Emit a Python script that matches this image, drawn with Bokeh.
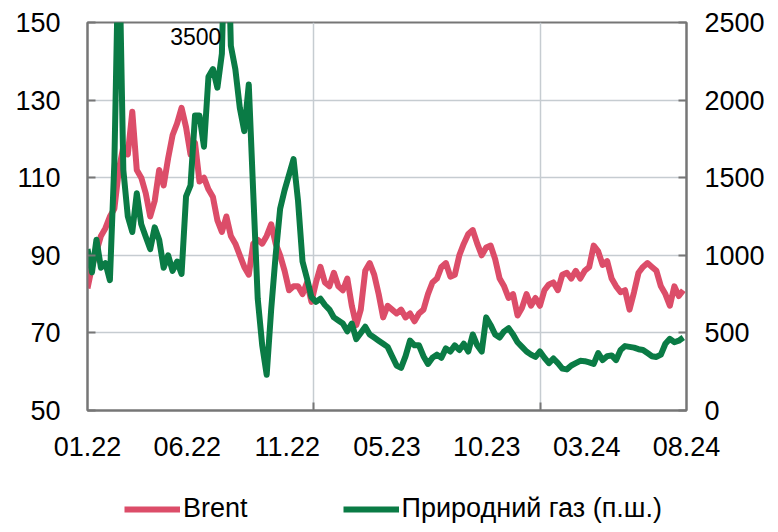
import pandas as pd
from bokeh.plotting import figure
from bokeh.layouts import column
from bokeh.models import (Range1d, LinearAxis, FixedTicker, Legend, LegendItem,
                          Label, ColumnDataSource)
from bokeh.embed import file_html
from bokeh.resources import INLINE

# ---------------- data (weekly observations from 2022-01-03) ----------------
start_date = "2022-01-03"
brent = [81.5, 87, 91, 95, 97, 100, 102, 112, 118, 116,
         127, 112, 110, 106, 100, 104, 112, 108, 115, 121,
         124, 128, 123, 116, 119, 109, 110, 107, 105, 99,
         96, 100, 95, 93, 90, 87, 85, 93, 94, 93,
         95, 98, 93, 90, 86, 81, 82, 82, 80, 83,
         78, 83, 87, 83, 82, 85.5, 82, 81, 84, 77,
         72, 76, 86, 88, 85, 80, 74, 77, 76, 75,
         76, 74, 75, 73, 75, 76, 80, 83, 84, 87,
         88, 84.5, 85, 90, 93, 95.5, 96.5, 93, 90, 92,
         92.5, 89, 84, 82, 79, 80, 74.5, 76.5, 80, 77,
         79, 77, 81, 82.5, 83, 81, 85, 85.5, 84, 86,
         84, 86, 87, 92.5, 91, 87.5, 88.5, 84, 82, 80.5,
         81, 76, 80.5, 85.5, 87, 88, 87, 86, 82, 80,
         77, 82, 79.5, 81]
gas = [1040, 890, 1100, 920, 950, 840, 1600, 3100, 1550, 1250,
       1150, 1400, 1200, 1120, 1040, 1180, 1100, 920, 1000, 900,
       960, 880, 1380, 1450, 1900, 1900, 1700, 2150, 2200, 2080,
       2300, 3500, 2350, 2200, 1950, 1800, 2100, 1400, 720, 420,
       230, 650, 1000, 1300, 1420, 1520, 1620, 1350, 960, 850,
       730, 700, 720, 680, 650, 600, 580, 560, 510, 560,
       460, 500, 540, 490, 470, 450, 430, 410, 350, 290,
       275, 350, 450, 420, 420, 350, 300, 340, 360, 340,
       400, 380, 420, 390, 430, 380, 490, 420, 380, 600,
       550, 490, 470, 510, 530, 490, 440, 410, 380, 360,
       345, 380, 340, 305, 335, 305, 270, 265, 290, 305,
       320, 318, 310, 300, 370, 325, 350, 355, 325, 390,
       415, 410, 405, 395, 390, 370, 350, 345, 360, 430,
       462, 440, 450, 470]
assert len(brent) == len(gas)

series_names = ["Brent", "Природний газ (п.ш.)"]
tick_labels = ["01.22", "06.22", "11.22", "05.23", "10.23", "03.24", "08.24"]
label_step_days = 156
grid_days = [353, 708]
end_days = 936
left_ticks = [50, 70, 90, 110, 130, 150]
right_ticks = [0, 500, 1000, 1500, 2000, 2500]

dates = pd.date_range(start_date, periods=len(brent), freq="7D")
days = [(d - dates[0]).days for d in dates]
src = ColumnDataSource(dict(x=days, brent=brent, gas=gas))

RED = "#DC4D69"
GREEN = "#0A7B45"
AXIS = "#767676"
GRID = "#C6CCD1"
FONT = "Liberation Sans"
FS = "27px"
LW = 6

W = 770
H_MAIN = 470
H_LEG = 54

p = figure(width=W, height=H_MAIN, output_backend="svg", toolbar_location=None,
           x_range=Range1d(0, end_days), y_range=Range1d(left_ticks[0], left_ticks[-1]),
           min_border_left=87, min_border_right=84, min_border_top=22, min_border_bottom=60)
p.extra_y_ranges = {"gas": Range1d(right_ticks[0], right_ticks[-1])}

p.outline_line_color = AXIS
p.outline_line_width = 2

# x axis
xt = [i * label_step_days for i in range(len(tick_labels))]
p.xaxis.ticker = FixedTicker(ticks=xt, minor_ticks=grid_days)
p.xaxis.major_label_overrides = {t: lab for t, lab in zip(xt, tick_labels)}
p.xaxis.major_tick_in = 0
p.xaxis.major_tick_out = 0
p.xaxis.minor_tick_in = 8
p.xaxis.minor_tick_out = 0
p.xaxis.minor_tick_line_color = AXIS
p.xaxis.minor_tick_line_width = 2
p.xaxis.axis_line_color = AXIS
p.xaxis.axis_line_width = 2
p.xaxis.major_label_standoff = 26
p.xaxis.major_label_text_font = FONT
p.xaxis.major_label_text_font_size = FS
p.xaxis.major_label_text_color = "black"

# left axis
p.yaxis.ticker = FixedTicker(ticks=left_ticks, minor_ticks=[])
p.yaxis.major_tick_in = 8
p.yaxis.major_tick_out = 0
p.yaxis.major_tick_line_color = AXIS
p.yaxis.major_tick_line_width = 2
p.yaxis.axis_line_color = AXIS
p.yaxis.axis_line_width = 2
p.yaxis.major_label_standoff = 27
p.yaxis.major_label_text_font = FONT
p.yaxis.major_label_text_font_size = FS
p.yaxis.major_label_text_color = "black"

# right axis
ra = LinearAxis(y_range_name="gas", ticker=FixedTicker(ticks=right_ticks, minor_ticks=[]))
ra.major_tick_in = 8
ra.major_tick_out = 0
ra.major_tick_line_color = AXIS
ra.major_tick_line_width = 2
ra.axis_line_color = AXIS
ra.axis_line_width = 2
ra.major_label_standoff = 18
ra.major_label_text_font = FONT
ra.major_label_text_font_size = FS
ra.major_label_text_color = "black"
p.add_layout(ra, "right")

# grids
p.xgrid.ticker = FixedTicker(ticks=grid_days)
p.xgrid.grid_line_color = GRID
p.xgrid.grid_line_width = 1.5
p.ygrid.ticker = FixedTicker(ticks=left_ticks)
p.ygrid.grid_line_color = GRID
p.ygrid.grid_line_width = 1.5

p.line("x", "brent", source=src, color=RED, line_width=LW, line_join="round")
p.line("x", "gas", source=src, color=GREEN, line_width=LW, line_join="round",
       y_range_name="gas")

# off-scale peak annotation
imax = max(range(len(gas)), key=lambda i: gas[i])
p.add_layout(Label(x=days[imax], y=right_ticks[-1], y_range_name="gas",
                   text=f"{gas[imax]:.0f}", text_align="right", text_baseline="middle",
                   x_offset=-5, y_offset=-14, text_font=FONT, text_font_size="23px",
                   text_color="black"))

# ---------------- legend strip (its frame is aligned with the chart's) ----------------
lg = figure(width=W, height=H_LEG, output_backend="svg", toolbar_location=None,
            x_range=Range1d(0, end_days), y_range=Range1d(0, 1),
            x_axis_location=None, y_axis_location=None,
            min_border_left=0, min_border_right=0, min_border_top=0, min_border_bottom=0)
lg.outline_line_color = None
lg.grid.visible = False
# same series, drawn outside this strip's visible range: only their legend swatches show
d1 = lg.line("x", "brent", source=src, color=RED, line_width=LW)
d2 = lg.line("x", "gas", source=src, color=GREEN, line_width=LW)
legend = Legend(items=[LegendItem(label=series_names[0], renderers=[d1]),
                       LegendItem(label=series_names[1], renderers=[d2])],
                orientation="horizontal", location=(37, 0),
                glyph_width=56, glyph_height=24, label_standoff=3, spacing=95,
                padding=0, margin=0, border_line_color=None, background_fill_alpha=0,
                label_text_font=FONT, label_text_font_size=FS, label_text_color="black",
                label_height=24)
lg.add_layout(legend, "center")

open("out.html", "w").write(file_html(column(p, lg, spacing=0), INLINE))
